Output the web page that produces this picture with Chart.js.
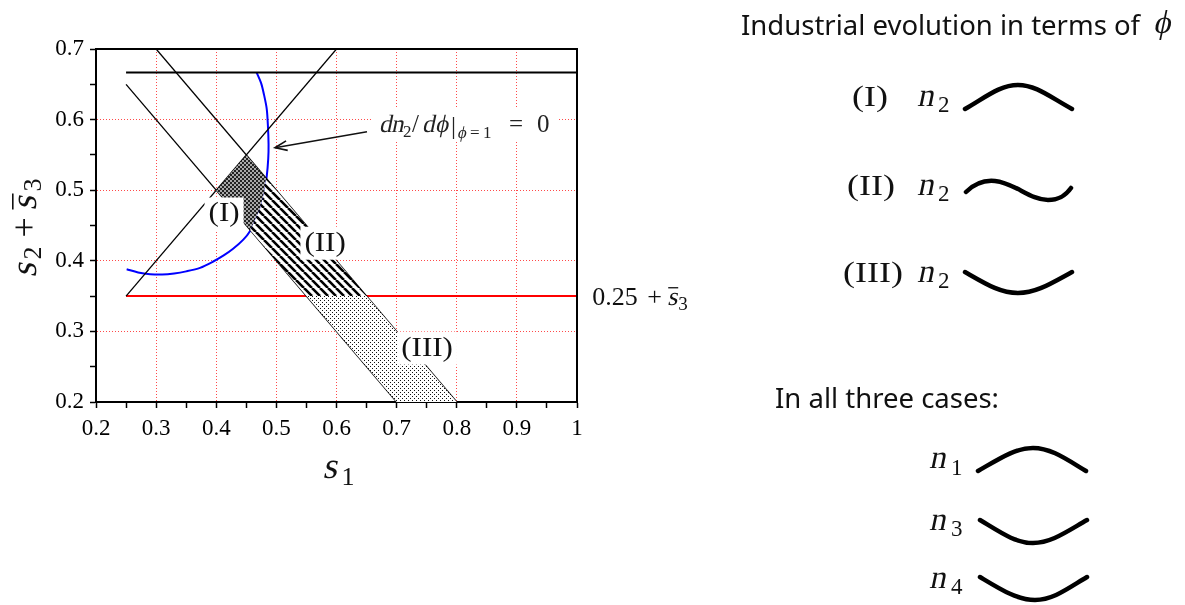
<!DOCTYPE html>
<html><head><meta charset="utf-8">
<script src="https://cdn.jsdelivr.net/npm/chart.js@4.4.1/dist/chart.umd.min.js"></script>
<style>
html,body{margin:0;padding:0;background:#fff;width:1185px;height:605px;overflow:hidden}
#wrap{position:relative;width:1185px;height:605px}
#c{position:absolute;left:0;top:0}
#panel{position:absolute;left:0;top:0;pointer-events:none}
.sans{font-family:"Noto Sans","Open Sans",sans-serif;font-size:27.5px;fill:#111}
.ser{font-family:"Liberation Serif","Times New Roman",serif;font-size:30px;fill:#111;text-anchor:end}
.it{font-family:"Liberation Serif","Times New Roman",serif;font-size:33px;fill:#111}
.sub{font-family:"Liberation Serif","Times New Roman",serif;font-size:23px;fill:#111}
.crv{fill:none;stroke:#000;stroke-width:4.5;stroke-linecap:round}
</style></head><body>
<div id="wrap">
<canvas id="c" width="1185" height="605"></canvas>
<svg id="panel" width="1185" height="605" xmlns="http://www.w3.org/2000/svg">
  <text class="sans" x="741" y="35">Industrial evolution in terms of</text>
  <g transform="translate(1153,33) skewX(-12)"><text x="0" y="0" style="font-family:'Liberation Serif','DejaVu Serif',serif;font-size:33px;fill:#111">ϕ</text></g>

  <g transform="translate(888,106) scale(1.2,1)"><text class="ser" x="0" y="0">(I)</text></g>
  <g transform="translate(917,106) skewX(-12)"><text class="it" x="0" y="0">n</text></g><text class="sub" x="938" y="112">2</text>
  <path class="crv" d="M965,109 C986,97 1000,85 1018,85 C1036,85 1050,97 1072,109"/>

  <g transform="translate(895,195) scale(1.2,1)"><text class="ser" x="0" y="0">(II)</text></g>
  <g transform="translate(917,195) skewX(-12)"><text class="it" x="0" y="0">n</text></g><text class="sub" x="938" y="201">2</text>
  <path class="crv" d="M966,192 C975,183 985,180 995,181 C1015,183 1030,200 1048,200 C1060,200 1066,195 1071,188"/>

  <g transform="translate(903,282) scale(1.2,1)"><text class="ser" x="0" y="0">(III)</text></g>
  <g transform="translate(917,282) skewX(-12)"><text class="it" x="0" y="0">n</text></g><text class="sub" x="938" y="288">2</text>
  <path class="crv" d="M965,272 C986,284 1000,293 1018,293 C1036,293 1050,284 1072,272"/>

  <text class="sans" x="775" y="408">In all three cases:</text>

  <g transform="translate(929,468) skewX(-12)"><text class="it" x="0" y="0">n</text></g><text class="sub" x="951" y="475">1</text>
  <path class="crv" d="M978,471 C999,459 1015,448 1033,448 C1051,448 1066,459 1086,471"/>

  <g transform="translate(929,530) skewX(-12)"><text class="it" x="0" y="0">n</text></g><text class="sub" x="951" y="536">3</text>
  <path class="crv" d="M980,520 C1000,532 1015,543 1033,543 C1051,543 1066,532 1087,520"/>

  <g transform="translate(929,588) skewX(-12)"><text class="it" x="0" y="0">n</text></g><text class="sub" x="951" y="594">4</text>
  <path class="crv" d="M980,577 C1000,589 1017,600 1035,600 C1053,600 1067,589 1087,577"/>
</svg>
</div>
<script>
// ---------- data ----------
const xTickLabels = ['0.2','0.3','0.4','0.5','0.6','0.7','0.8','0.9','1'];
const yTickLabels = ['0.2','0.3','0.4','0.5','0.6','0.7'];

const topLine   = [{x:0.25,y:0.6667},{x:1.0,y:0.6667}];
const riseLine  = [{x:0.25,y:0.35},{x:0.60,y:0.70}];
const fallLineA = [{x:0.25,y:0.65},{x:0.70,y:0.20}];
const fallLineB = [{x:0.30,y:0.70},{x:0.80,y:0.20}];
const redLine   = [{x:0.25,y:0.35},{x:1.0,y:0.35}];

const blueCurve = [
  {x:0.251,y:0.388},{x:0.27,y:0.3835},{x:0.29,y:0.381},{x:0.31,y:0.3805},{x:0.33,y:0.382},
  {x:0.35,y:0.385},{x:0.373,y:0.390},{x:0.395,y:0.399},{x:0.413,y:0.408},{x:0.428,y:0.417},
  {x:0.445,y:0.430},{x:0.456,y:0.442},{x:0.465,y:0.459},{x:0.473,y:0.474},{x:0.479,y:0.495},
  {x:0.484,y:0.52},{x:0.4865,y:0.545},{x:0.487,y:0.565},{x:0.486,y:0.59},{x:0.484,y:0.615},
  {x:0.4795,y:0.635},{x:0.4745,y:0.652},{x:0.467,y:0.667}
];

const regionI = [
  {x:0.40,y:0.50},{x:0.45,y:0.55},{x:0.483,y:0.517},{x:0.479,y:0.495},
  {x:0.473,y:0.474},{x:0.465,y:0.459},{x:0.4566,y:0.4434}
];
const regionII = [
  {x:0.483,y:0.517},{x:0.65,y:0.35},{x:0.55,y:0.35},{x:0.4566,y:0.4434},
  {x:0.465,y:0.459},{x:0.473,y:0.474},{x:0.479,y:0.495}
];
const regionIII = [
  {x:0.55,y:0.35},{x:0.65,y:0.35},{x:0.80,y:0.20},{x:0.70,y:0.20}
];

const regionLabels = [
  {text:'(I)',   x:0.413, y:0.467},
  {text:'(II)',  x:0.581, y:0.4256},
  {text:'(III)', x:0.7507, y:0.277}
];
const arrowFrom = {x:0.6507, y:0.5829};
const arrowTo   = {x:0.4977, y:0.5602};
const derivLabelAt = {x:0.669, y:0.5829};
const redLabelAt = {x:1.0253, y:0.35};

// ---------- styling helpers ----------
const SERIF = '"Liberation Serif","Times New Roman",serif';
function pat(size, draw){
  const c = document.createElement('canvas'); c.width = c.height = size;
  const g = c.getContext('2d'); draw(g); return g.createPattern(c,'repeat');
}
const checker = pat(4, g=>{ g.fillStyle='#a8a8a8'; g.fillRect(0,0,4,4); g.fillStyle='#222'; g.fillRect(0,0,2,2); g.fillRect(2,2,2,2); });
const hatch = pat(8, g=>{ g.fillStyle='#fff'; g.fillRect(0,0,8,8); g.strokeStyle='#000'; g.lineWidth=2.6; g.beginPath(); for(const k of [-8,0,8]){ g.moveTo(k,0); g.lineTo(k+8,8);} g.stroke(); });
const dots = pat(4, g=>{ g.fillStyle='#fff'; g.fillRect(0,0,4,4); g.fillStyle='#111'; g.fillRect(0,0,1,1); g.fillRect(2,2,1,1); });

function isMajor(v){ const k=(v-0.2)/0.1; return Math.abs(k-Math.round(k))<1e-6; }
function labelFor(arr){ return v => isMajor(v) ? (arr[Math.round((v-0.2)/0.1)] ?? '') : ''; }

// parts: [text, sizePx, dx, dy, italic]
function drawParts(ctx, parts, x, y){
  for (const p of parts){
    ctx.font = p[1] + 'px ' + SERIF;
    if (p[4]) {
      ctx.save(); ctx.translate(x + p[2], y + (p[3]||0)); ctx.transform(1,0,-0.21,1,0,0);
      ctx.fillText(p[0], 0, 0); ctx.restore();
    } else ctx.fillText(p[0], x + p[2], y + (p[3]||0));
  }
}

const fillDs = (data, bg) => ({data, showLine:true, fill:'shape', backgroundColor:bg, borderColor:'rgba(0,0,0,0)', borderWidth:1, pointRadius:0, tension:0});
const lineDs = (data, color, w, tension=0) => ({data, showLine:true, fill:false, borderColor:color, borderWidth:w, pointRadius:0, tension});

const overlay = {
  id:'overlay',
  afterDatasetsDraw(chart){
    const {ctx, scales:{x, y}} = chart;
    ctx.save();
    ctx.textBaseline = 'alphabetic';
    // arrow
    const fx = x.getPixelForValue(arrowFrom.x), fy = y.getPixelForValue(arrowFrom.y);
    const tx = x.getPixelForValue(arrowTo.x),   ty = y.getPixelForValue(arrowTo.y);
    ctx.strokeStyle = '#111'; ctx.lineWidth = 1.6;
    ctx.beginPath(); ctx.moveTo(fx,fy); ctx.lineTo(tx,ty); ctx.stroke();
    const ang = Math.atan2(ty-fy, tx-fx), L = 13, a = 0.38;
    ctx.beginPath();
    ctx.moveTo(tx - L*Math.cos(ang-a), ty - L*Math.sin(ang-a)); ctx.lineTo(tx,ty);
    ctx.lineTo(tx - L*Math.cos(ang+a), ty - L*Math.sin(ang+a)); ctx.stroke();

    // derivative label
    const dxp = x.getPixelForValue(derivLabelAt.x), dyp = y.getPixelForValue(derivLabelAt.y);
    ctx.fillStyle = '#fff'; ctx.fillRect(dxp-5, dyp-24, 185, 34);
    ctx.fillStyle = '#222';
    drawParts(ctx, [
      ['d',25,1,0,1],['n',25,13,0,1],['2',17,25,5],['/',25,34],['d',25,44,0,1],
      ['ϕ',25,57,0,1],['|',25,73,2],
      ['ϕ',17,79,6,1],['=',17,92,6],['1',17,105,6],['=',25,131],['0',25,159]
    ], dxp, dyp);

    // region labels with white boxes
    ctx.font = '27px '+SERIF;
    for (const r of regionLabels){
      const cx = x.getPixelForValue(r.x), cy = y.getPixelForValue(r.y);
      const w = ctx.measureText(r.text).width * 1.15;
      ctx.fillStyle = '#fff'; ctx.fillRect(cx - w/2 - 4, cy - 16, w + 8, 33);
      ctx.fillStyle = '#111'; ctx.textAlign = 'center';
      ctx.save(); ctx.translate(cx, cy + 8); ctx.scale(1.15, 1);
      ctx.fillText(r.text, 0, 0); ctx.restore();
    }
    ctx.restore();
  },
  afterDraw(chart){
    const {ctx, chartArea:a, scales:{x, y}} = chart;
    ctx.save();
    // frame top & right
    ctx.strokeStyle = '#000'; ctx.lineWidth = 2;
    ctx.beginPath(); ctx.moveTo(a.left-1, a.top); ctx.lineTo(a.right, a.top); ctx.lineTo(a.right, a.bottom+1); ctx.stroke();
    ctx.fillStyle = '#111'; ctx.textBaseline = 'alphabetic';
    // x title
    const xc = (a.left + a.right)/2;
    drawParts(ctx, [['s',37,-14,0,1],['1',26,5,7]], xc, a.bottom + 76);
    // y title (rotated)
    ctx.save();
    ctx.translate(36, (a.top + a.bottom)/2 + 52);
    ctx.rotate(-Math.PI/2);
    drawParts(ctx, [['s',37,0,0,1],['2',26,18,5],['+',36,40],['s',37,67,0,1],['3',26,86,5]], 0, 0);
    ctx.fillRect(68, -24, 16, 1.6);
    ctx.restore();
    // red line label
    const rx = x.getPixelForValue(redLabelAt.x), ry = y.getPixelForValue(redLabelAt.y) + 9;
    drawParts(ctx, [['0.25',26,0],['+',26,55],['s',26,75,0,1],['3',19,86,5]], rx, ry);
    ctx.fillRect(rx+76, ry-18, 10, 1.3);
    ctx.restore();
  }
};

const gridColor = c => (c.tick && isMajor(c.tick.value)) ? '#ff4a4a' : 'rgba(0,0,0,0)';

new Chart(document.getElementById('c').getContext('2d'), {
  type:'scatter',
  data:{ datasets:[
    fillDs(regionIII, dots),
    fillDs(regionII, hatch),
    fillDs(regionI, checker),
    lineDs(fallLineA, '#000', 1.3),
    lineDs(fallLineB, '#000', 1.3),
    lineDs(riseLine, '#000', 1.3),
    lineDs(topLine, '#000', 2),
    lineDs(redLine, '#ff0000', 2),
    lineDs(blueCurve, '#0000ff', 2, 0.3)
  ]},
  options:{
    responsive:false, animation:false, events:[],
    plugins:{ legend:{display:false}, tooltip:{enabled:false} },
    layout:{ padding:{ left:0, top:49, right:608, bottom:123 } },
    scales:{
      x:{ type:'linear', min:0.2, max:1.0,
          afterFit(s){ s.height = 80; },
          ticks:{ stepSize:0.05, maxTicksLimit:100, autoSkip:false, maxRotation:0, color:'#000', padding:7,
                  font:{family:'Liberation Serif', size:23}, callback: labelFor(xTickLabels) },
          grid:{ color:gridColor, lineWidth:1, tickColor:'#000', tickLength:6, tickWidth:1.5 },
          border:{ color:'#000', width:2, dash:[1,2] } },
      y:{ type:'linear', min:0.2, max:0.7,
          afterFit(s){ s.width = 96; },
          ticks:{ stepSize:0.05, maxTicksLimit:100, autoSkip:false, color:'#000', padding:6,
                  font:{family:'Liberation Serif', size:23}, callback: labelFor(yTickLabels) },
          grid:{ color:gridColor, lineWidth:1, tickColor:'#000', tickLength:6, tickWidth:1.5 },
          border:{ color:'#000', width:2, dash:[1,2] } }
    }
  },
  plugins:[overlay]
});
</script>
</body></html>
